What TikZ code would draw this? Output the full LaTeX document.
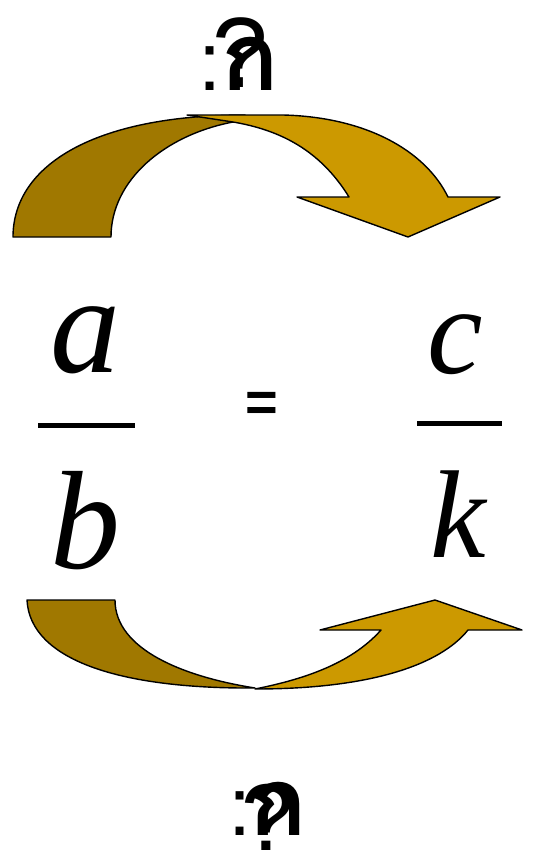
\documentclass[tikz,border=0pt]{standalone}
\usepackage{fontspec}
\setmainfont{Liberation Serif}
\newfontfamily\arialf{Liberation Sans}
\newfontfamily\thaif[Script=Thai]{Loma}
\definecolor{darkgold}{RGB}{160,120,0}
\definecolor{lightgold}{RGB}{204,153,0}
\begin{document}
\begin{tikzpicture}[x=1pt,y=-1pt,
  arrowpart/.style={draw=black,line width=1.4pt,line join=round},
  bigvar/.style={anchor=base,inner sep=0pt,font=\fontsize{140}{140}\selectfont\itshape},
  smallvar/.style={anchor=base,inner sep=0pt,font=\fontsize{125}{125}\selectfont\itshape},
  barline/.style={line width=5pt},
  lbl/.style={anchor=base,inner sep=0pt}]
\useasboundingbox (0,0) rectangle (543,851);
% top curved arrow
\fill[darkgold,arrowpart] (13,237) .. controls (13,165) and (95,115) .. (245,115)
  -- (233,122) .. controls (165,135) and (111,180) .. (111,237) -- cycle;
\fill[lightgold,arrowpart] (187,115) -- (283,115) .. controls (365,117) and (425,150) .. (448,197)
  -- (500,197) -- (408,237) -- (297,197) -- (349,197)
  .. controls (320,150) and (280,130) .. (233,122) -- cycle;
% bottom curved arrow
\fill[darkgold,arrowpart] (27,600) -- (115,600) .. controls (115,650) and (185,677) .. (255,688)
  .. controls (120,689) and (30,660) .. (27,600) -- cycle;
\fill[lightgold,arrowpart] (255,689) .. controls (370,689) and (440,665) .. (468,630)
  -- (522,630) -- (435,600) -- (320,630) -- (381,630)
  .. controls (350,665) and (300,680) .. (255,689) -- cycle;
% fractions
\node[bigvar] (a) at (85,372) {a};
\node[bigvar] (b) at (85,568) {b};
\draw[barline] (38,425) -- (135,425);
\node[smallvar] (c) at (455,373) {c};
\node[smallvar] (k) at (458,557) {k};
\draw[barline] (417,423) -- (502,423);
\node[lbl,font=\arialf\bfseries\fontsize{56}{56}\selectfont] (eq) at (262,421) {=};
% top label
\node[lbl,font=\arialf\fontsize{83}{83}\selectfont] (tcolon) at (210,90) {:};
\node[lbl,font=\thaif\bfseries\fontsize{95}{95}\selectfont] (tko) at (250,90) {ก};
\node[lbl,font=\arialf\fontsize{100}{100}\selectfont] (tq) at (240,87) {?};
% bottom label
\node[lbl,font=\arialf\fontsize{83}{83}\selectfont] (bcolon) at (240,835) {:};
\node[lbl,font=\thaif\bfseries\fontsize{95}{95}\selectfont] (bko) at (278,835) {ก};
\node[lbl,font=\arialf\fontsize{95}{95}\selectfont] (bq) at (268,850) {?};
\end{tikzpicture}
\end{document}
